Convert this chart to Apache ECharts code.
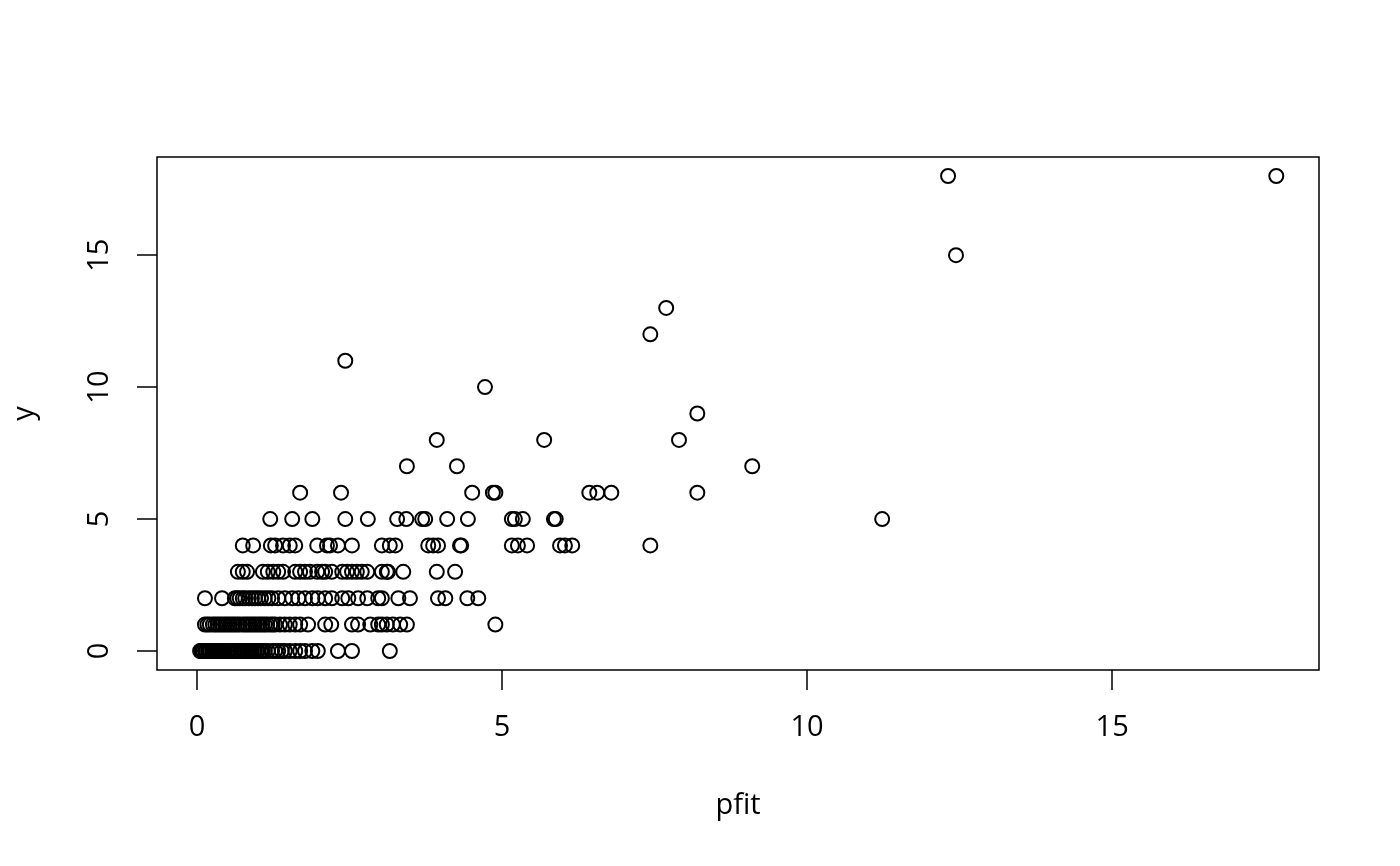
<!DOCTYPE html>
<html lang="en">
<head>
  <meta charset="UTF-8">
  <script src="https://cdn.jsdelivr.net/npm/echarts@6.0.0/dist/echarts.min.js"></script>
  <style>
    html, body { margin: 0; padding: 0; background: #fff; }
  </style>
</head>
<body>
  <div id="main" style="width: 1400px;height:866px;"></div>
  <script type="text/javascript">
    // pfit values, grouped by their y count
    const pfitY0 = [0.05, 0.07, 0.08, 0.10, 0.13, 0.15, 0.18, 0.20, 0.22, 0.25, 0.28, 0.30, 0.32, 0.34,
      0.37, 0.41, 0.43, 0.46, 0.49, 0.51, 0.54, 0.57, 0.60, 0.62, 0.65, 0.67, 0.71, 0.74, 0.77,
      0.79, 0.82, 0.84, 0.87, 0.90, 0.93, 0.95, 0.98, 1.00, 1.04, 1.07, 1.11, 1.16, 1.23, 1.28,
      1.33, 1.39, 1.44, 1.52, 1.61, 1.69, 1.77, 1.89, 1.98, 2.31, 2.54, 3.16];
    const pfitY1 = [0.13, 0.17, 0.21, 0.26, 0.30, 0.34, 0.38, 0.42, 0.46, 0.50, 0.54, 0.58, 0.62, 0.66,
      0.70, 0.75, 0.79, 0.83, 0.87, 0.91, 0.95, 0.99, 1.03, 1.07, 1.11, 1.15, 1.20, 1.24, 1.28,
      1.36, 1.44, 1.52, 1.61, 1.69, 1.82, 2.10, 2.20, 2.54, 2.64, 2.84, 2.97, 3.03, 3.11, 3.21,
      3.33, 3.44, 4.89];
    const pfitY2 = [0.13, 0.41, 0.62, 0.66, 0.70, 0.75, 0.79, 0.85, 0.90, 0.95, 1.00, 1.05, 1.11, 1.17,
      1.23, 1.33, 1.44, 1.56, 1.66, 1.77, 1.89, 1.98, 2.10, 2.21, 2.38, 2.48, 2.64, 2.79, 2.97,
      3.03, 3.30, 3.49, 3.95, 4.07, 4.43, 4.61];
    const pfitY3 = [0.67, 0.75, 0.82, 1.08, 1.16, 1.25, 1.33, 1.41, 1.61, 1.69, 1.77, 1.85, 1.97, 2.05,
      2.10, 2.21, 2.38, 2.46, 2.54, 2.62, 2.70, 2.79, 3.03, 3.11, 3.13, 3.38, 3.93, 4.23];
    const pfitY4 = [0.75, 0.92, 1.21, 1.28, 1.41, 1.52, 1.61, 1.97, 2.13, 2.18, 2.31, 2.54, 3.03, 3.16,
      3.25, 3.79, 3.87, 3.95, 4.31, 4.33, 5.16, 5.26, 5.41, 5.95, 6.03, 6.15, 7.43];
    const pfitY5 = [1.20, 1.56, 1.89, 2.43, 2.80, 3.28, 3.43, 3.69, 3.74, 4.10, 4.44, 5.16, 5.21, 5.34,
      5.85, 5.88, 11.23];
    const pfitY6 = [1.69, 2.36, 4.51, 4.85, 4.89, 6.43, 6.56, 6.79, 8.20];
    const pfitY7 = [3.44, 4.26, 9.10];
    const pfitY8 = [3.93, 5.69, 7.90];
    const pfitY9 = [8.20];
    const pfitY10 = [4.72];
    const pfitY11 = [2.43];
    const pfitY12 = [7.43];
    const pfitY13 = [7.69];
    const pfitY15 = [12.44];
    const pfitY18 = [12.31, 17.69];

    const groups = [
      [0, pfitY0], [1, pfitY1], [2, pfitY2], [3, pfitY3], [4, pfitY4], [5, pfitY5],
      [6, pfitY6], [7, pfitY7], [8, pfitY8], [9, pfitY9], [10, pfitY10], [11, pfitY11],
      [12, pfitY12], [13, pfitY13], [15, pfitY15], [18, pfitY18]
    ];

    const xTicks = [0, 5, 10, 15];
    const yTicks = [0, 5, 10, 15];

    let points = [];
    groups.forEach(function (g) {
      g[1].forEach(function (x) { points.push([x, g[0]]); });
    });

    const font = 'Open Sans';
    var myChart = echarts.init(document.getElementById('main'));
    myChart.setOption({
      animation: false,
      grid: {
        left: 157, right: 81, top: 157, bottom: 196,
        show: true,
        borderColor: '#000',
        borderWidth: 1.5,
        backgroundColor: 'transparent'
      },
      xAxis: {
        type: 'value',
        min: -0.656,
        max: 18.39,
        name: 'pfit',
        nameLocation: 'middle',
        nameGap: 121,
        nameTextStyle: { color: '#000', fontSize: 29, fontFamily: font },
        axisLine: { show: false, onZero: false },
        splitLine: { show: false },
        axisTick: {
          show: true, length: 20, customValues: xTicks,
          lineStyle: { color: '#000', width: 1.5 }
        },
        axisLabel: {
          customValues: xTicks, margin: 43,
          color: '#000', fontSize: 29, fontFamily: font
        }
      },
      yAxis: {
        type: 'value',
        min: -0.72,
        max: 18.72,
        name: 'y',
        nameLocation: 'middle',
        nameGap: 118,
        nameRotate: 90,
        nameTextStyle: { color: '#000', fontSize: 29, fontFamily: font },
        axisLine: { show: false, onZero: false },
        splitLine: { show: false },
        axisTick: {
          show: true, length: 20, customValues: yTicks,
          lineStyle: { color: '#000', width: 1.5 }
        },
        axisLabel: {
          customValues: yTicks, margin: 43, rotate: 90,
          color: '#000', fontSize: 29, fontFamily: font
        }
      },
      series: [{
        type: 'scatter',
        data: points,
        symbol: 'circle',
        symbolSize: 14,
        itemStyle: {
          color: 'rgba(0,0,0,0)',
          borderColor: '#000',
          borderWidth: 2,
          opacity: 1
        },
        emphasis: { disabled: true }
      }]
    });
  </script>
</body>
</html>
